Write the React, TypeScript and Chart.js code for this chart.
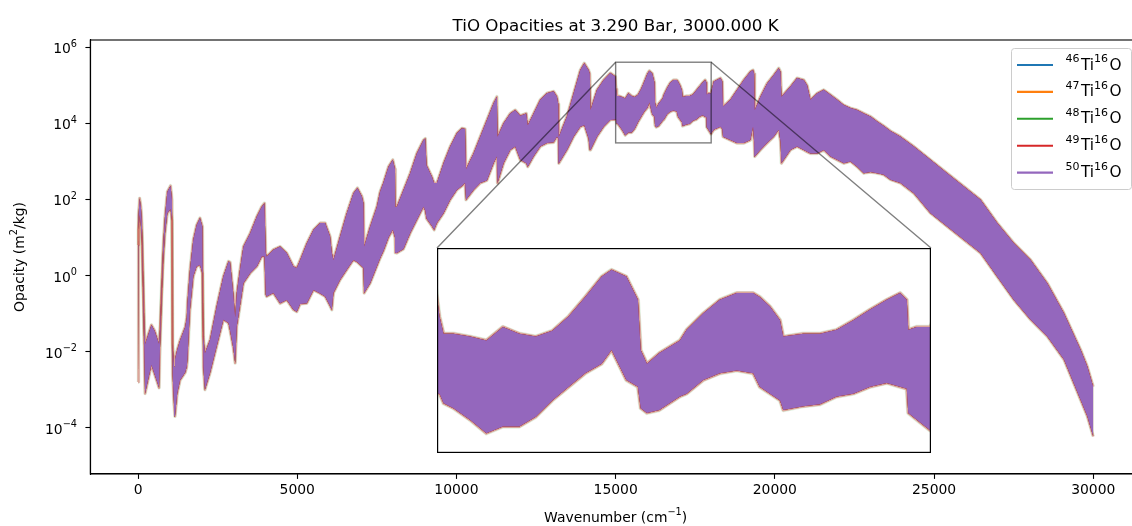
import React, { useEffect, useRef } from 'react';
import { Chart, registerables } from 'chart.js';

Chart.register(...registerables);

// ---------------- data ----------------
// wavenumber grid (cm^-1) and the upper / lower envelope of the opacity band, as log10(opacity)
const wavenumbers = [
  0, 15, 50, 90, 120, 160, 200, 220, 300, 420, 520, 660, 690, 740, 790, 845, 920, 1020, 1065, 1085,
  1130, 1160, 1230, 1320, 1480, 1530, 1550, 1630, 1735, 1840, 1945, 2020, 2050, 2100, 2260, 2470,
  2680, 2840, 2890, 2990, 3050, 3100, 3200, 3310, 3520, 3730, 3885, 3970, 4010, 4040, 4250, 4460,
  4670, 4880, 4985, 5090, 5300, 5510, 5720, 5875, 6030, 6085, 6136, 6346, 6555, 6765, 6890, 7030,
  7080, 7100, 7290, 7500, 7600, 7710, 7865, 8000, 8070, 8080, 8127, 8337, 8546, 8755, 8965, 9020,
  9060, 9227, 9300, 9385, 9594, 9803, 10013, 10170, 10270, 10300, 10537, 10746, 10956, 11165, 11270,
  11290, 11480, 11689, 11846, 12003, 12192, 12240, 12422, 12632, 12841, 13051, 13156, 13200, 13215,
  13470, 13679, 13889, 14015, 14150, 14190, 14210, 14413, 14623, 14832, 14990, 15015, 15040, 15100,
  15200, 15300, 15400, 15500, 15600, 15700, 15800, 15900, 16000, 16060, 16150, 16220, 16237, 16275,
  16350, 16475, 16516, 16617, 16717, 16820, 16920, 16960, 17022, 17083, 17103, 17224, 17326, 17427,
  17528, 17630, 17731, 17812, 17853, 17862, 17913, 17994, 18080, 18290, 18350, 18372, 18603, 18813,
  19022, 19232, 19315, 19350, 19370, 19546, 19756, 19965, 20122, 20180, 20206, 20489, 20699, 20908,
  21013, 21118, 21327, 21537, 21746, 21956, 22165, 22375, 22584, 22794, 23003, 23213, 23422, 23632,
  23947, 24366, 24890, 25413, 25937, 26461, 26985, 27509, 28033, 28557, 29080, 29604, 29814, 30000,
];

const upperExponent = [
  0.8, 1.6, 2.03, 1.8, 1.4, 0.0, -1.4, -1.8, -1.6, -1.3, -1.45, -1.8, -1.4, -0.3, 0.8, 1.55, 2.2, 2.36, 2.0, -1.8,
  -2.4, -2.2, -1.95, -1.7, -1.35, -1.1, -0.73, 0.15, 0.94, 1.33, 1.51, 1.29, -1.6, -2.04, -1.69, -0.81,
  -0.02, 0.37, 0.35, -0.46, -1.1, -0.46, 0.15, 0.76, 1.11, 1.55, 1.81, 1.9, 0.6, 0.5, 0.68, 0.76,
  0.59, 0.24, 0.2, 0.41, 0.85, 1.2, 1.38, 1.38, 1.03, 0.6, 0.41, 1.03, 1.64, 2.16, 2.3, 2.08,
  1.9, 0.76, 1.29, 1.81, 2.2, 2.45, 2.86, 3.04, 2.8, 1.8, 1.81, 2.25, 2.69, 3.21, 3.56, 3.6,
  2.9, 2.6, 2.43, 2.43, 2.95, 3.39, 3.74, 3.87, 3.85, 2.8, 3.21, 3.65, 4.09, 4.53, 4.7,
  3.65, 4.0, 4.26, 4.35, 4.2, 4.26, 3.95, 4.26, 4.62, 4.79, 4.84, 4.7, 4.5, 3.65,
  4.18, 4.79, 5.4, 5.58, 5.4, 5.3, 4.35, 4.88, 5.14, 5.32, 5.23, 4.9, 4.72, 4.72,
  4.69, 4.65, 4.79, 4.72, 4.69, 4.75, 4.9, 5.1, 5.31, 5.38, 5.31, 5.07, 4.55, 4.41,
  4.52, 4.65, 4.76, 4.93, 5.07, 5.14, 5.14, 5.1, 5.0, 4.86, 4.69, 4.72, 4.72, 4.76,
  4.86, 4.97, 5.07, 5.14, 5.07, 4.76, 4.79, 4.79, 5.1, 5.19, 5.1, 4.44, 4.62, 4.88,
  5.14, 5.36, 5.4, 5.3, 4.35, 4.7, 5.05, 5.27, 5.45, 5.35, 4.7, 4.97, 5.19, 5.14,
  5.0, 4.62, 4.79, 4.88, 4.75, 4.62, 4.48, 4.4, 4.35, 4.26, 4.18, 4.05, 3.93, 3.8,
  3.65, 3.39, 3.04, 2.69, 2.34, 1.99, 1.38, 0.85, 0.41, -0.2, -0.99, -1.95, -2.39, -2.92,
];

const lowerExponent = [
  -2.8, 1.2, 1.6, 1.3, 0.9, -0.5, -2.2, -3.1, -2.8, -2.35, -2.6, -2.95, -1.9, -0.6, 0.4, 1.1, 1.64, 1.75, 1.45, -2.6,
  -3.4, -3.7, -3.1, -2.75, -2.55, -2.4, -2.2, -0.9, -0.02, 0.24, 0.28, 0.06, -2.4, -3.0, -2.56, -1.86,
  -1.16, -1.25, -1.45, -1.9, -2.3, -1.34, -0.81, -0.2, 0.06, 0.24, 0.5, 0.5, -0.5, -0.55, -0.46, -0.73,
  -0.64, -0.9, -0.95, -0.75, -0.73, -0.38, -0.47, -0.55, -0.8, -0.9, -0.46, -0.11, 0.15, 0.41, 0.35, 0.24,
  0.2, -0.46, -0.2, 0.24, 0.45, 0.65, 1.0, 1.2, 1.0, 0.6, 0.59, 0.7, 1.11, 1.46, 1.81, 1.7,
  1.5, 1.3, 1.2, 1.38, 1.64, 1.99, 2.25, 2.35, 2.43, 1.99, 2.25, 2.43, 2.5, 2.95, 3.13,
  2.43, 2.95, 3.3, 3.39, 3.04, 2.95, 2.86, 3.13, 3.39, 3.48, 3.5, 3.65, 3.6, 2.95,
  3.3, 3.65, 3.91, 3.95, 3.6, 3.3, 3.3, 3.65, 3.91, 4.09, 4.1, 4.1, 4.0, 3.95,
  3.83, 3.69, 3.76, 3.76, 3.86, 4.03, 4.17, 4.31, 4.41, 4.55, 4.24, 4.17, 3.95, 3.9,
  3.93, 4.07, 4.1, 4.24, 4.31, 4.34, 4.31, 4.17, 4.1, 4.03, 3.93, 3.97, 3.99, 4.07,
  4.1, 4.17, 4.21, 4.17, 4.15, 3.9, 3.83, 3.72, 3.83, 3.91, 3.85, 3.65, 3.56, 3.48,
  3.48, 3.56, 3.91, 3.5, 3.13, 3.3, 3.48, 3.65, 3.83, 3.5, 2.95, 3.3, 3.39, 3.3,
  3.25, 3.21, 3.21, 3.3, 3.13, 3.04, 2.95, 3.0, 2.86, 2.69, 2.72, 2.69, 2.65, 2.52,
  2.43, 2.16, 1.64, 1.29, 0.94, 0.59, -0.03, -0.64, -1.16, -1.6, -2.21, -3.27, -3.7, -4.23,
];

const massNumbers = ['46', '47', '48', '49', '50'];
const seriesColors = ['#1f77b4', '#ff7f0e', '#2ca02c', '#d62728', '#9467bd'];
const fringeColors = ['rgba(0,0,0,0)', 'rgba(0,0,0,0)', 'rgba(44,160,44,0.14)', 'rgba(214,39,40,0.38)', 'rgba(0,0,0,0)'];
const fringeWidths = [1, 1, 3.6, 2.4, 1];

const xTickValues = [0, 5000, 10000, 15000, 20000, 25000, 30000];
const yTickExponents = [-4, -2, 0, 2, 4, 6];
const xLimits = [-1500, 31500];
const yLimitExponents = [-5.216, 6.19];
const insetXLimits = [15000, 18000];
const insetYLimitExponents = [3.486, 5.606];

const titleText = 'TiO Opacities at 3.290 Bar, 3000.000 K';

// ---------------- layout ----------------
const FONT = '"DejaVu Sans", sans-serif';
const MAIN_W = 1142;
const MAIN_H = 526;
const INSET = { left: 437, top: 248, width: 494, height: 205 };

function makeDatasets(widthScale: number) {
  const upper = wavenumbers.map((w, i) => ({ x: w, y: Math.pow(10, upperExponent[i]) }));
  const lower = wavenumbers.map((w, i) => ({ x: w, y: Math.pow(10, lowerExponent[i]) }));
  const ds: any[] = [];
  massNumbers.forEach((m, k) => {
    const order = massNumbers.length - 1 - k;
    const common = {
      pointRadius: 0,
      pointHoverRadius: 0,
      tension: 0,
      borderColor: fringeColors[k],
      borderWidth: fringeWidths[k] * widthScale,
      borderJoinStyle: 'round',
      order,
    };
    ds.push({ ...common, label: m + 'Ti16O', data: upper, fill: '+1', backgroundColor: seriesColors[k] });
    ds.push({ ...common, label: m + 'Ti16O lower', data: lower, fill: false, backgroundColor: seriesColors[k] });
  });
  return ds;
}

function drawSupText(
  ctx: CanvasRenderingContext2D,
  parts: [string, boolean][],
  x: number,
  y: number,
  size: number,
  align: 'left' | 'center' | 'right',
  supRatio = 0.7,
  supGap = 0,
) {
  const big = `${size}px ${FONT}`;
  const small = `${size * supRatio}px ${FONT}`;
  let total = 0;
  const widths = parts.map(([t, sup]) => {
    ctx.font = sup ? small : big;
    const w = ctx.measureText(t).width + (sup ? supGap : 0);
    total += w;
    return w;
  });
  let cx = align === 'left' ? x : align === 'center' ? x - total / 2 : x - total;
  ctx.textAlign = 'left';
  ctx.textBaseline = 'alphabetic';
  parts.forEach(([t, sup], i) => {
    ctx.font = sup ? small : big;
    ctx.fillText(t, cx, sup ? y - size * 0.48 : y);
    cx += widths[i];
  });
  return total;
}

const mainDecor = {
  id: 'mainDecor',
  afterDatasetsDraw(chart: any) {
    const { ctx, scales } = chart;
    const xs = scales.x;
    const ys = scales.y;
    ctx.save();
    // zoom rectangle + connectors
    const rx0 = xs.getPixelForValue(insetXLimits[0]);
    const rx1 = xs.getPixelForValue(insetXLimits[1]);
    const ry0 = ys.getPixelForValue(Math.pow(10, insetYLimitExponents[1]));
    const ry1 = ys.getPixelForValue(Math.pow(10, insetYLimitExponents[0]));
    ctx.strokeStyle = 'rgba(0,0,0,0.5)';
    ctx.lineWidth = 1.4;
    ctx.strokeRect(rx0, ry0, rx1 - rx0, ry1 - ry0);
    ctx.beginPath();
    ctx.moveTo(rx0, ry0);
    ctx.lineTo(INSET.left, INSET.top);
    ctx.moveTo(rx1, ry0);
    ctx.lineTo(INSET.left + INSET.width, INSET.top);
    ctx.stroke();
    ctx.restore();
  },
  afterDraw(chart: any) {
    const { ctx, chartArea, scales } = chart;
    const ys = scales.y;
    ctx.save();
    // frame
    ctx.strokeStyle = '#000';
    ctx.lineWidth = 1.1;
    ctx.strokeRect(chartArea.left, chartArea.top, chartArea.right - chartArea.left, chartArea.bottom - chartArea.top);
    ctx.fillStyle = '#000';
    // y tick labels
    yTickExponents.forEach((e) => {
      const y = ys.getPixelForValue(Math.pow(10, e));
      const sup = e < 0 ? '\u2212' + Math.abs(e) : String(e);
      drawSupText(ctx, [['10', false], [sup, true]], 77, y + 6, 13.9, 'right');
    });
    // title
    ctx.font = `16.7px ${FONT}`;
    ctx.textAlign = 'center';
    ctx.textBaseline = 'alphabetic';
    const cx = (chartArea.left + chartArea.right) / 2;
    ctx.fillText(titleText, cx, 30.5);
    // x label
    drawSupText(ctx, [['Wavenumber (cm', false], ['\u22121', true], [')', false]], cx, 522, 13.9, 'center');
    // y label
    ctx.save();
    ctx.translate(23.5, (chartArea.top + chartArea.bottom) / 2);
    ctx.rotate(-Math.PI / 2);
    drawSupText(ctx, [['Opacity (m', false], ['2', true], ['/kg)', false]], 0, 0, 13.9, 'center');
    ctx.restore();
    // legend
    const lx = 1011.5, ly = 48.5, lw = 120, lh = 141;
    ctx.beginPath();
    ctx.roundRect(lx, ly, lw, lh, 3);
    ctx.fillStyle = 'rgba(255,255,255,0.8)';
    ctx.fill();
    ctx.strokeStyle = '#cccccc';
    ctx.lineWidth = 1;
    ctx.stroke();
    massNumbers.forEach((m, k) => {
      const ry = 65 + k * 26.9;
      ctx.strokeStyle = seriesColors[k];
      ctx.lineWidth = 2.1;
      ctx.beginPath();
      ctx.moveTo(1017, ry);
      ctx.lineTo(1053, ry);
      ctx.stroke();
      ctx.fillStyle = '#000';
      drawSupText(ctx, [[m, true], ['Ti', false], ['16', true], ['O', false]], 1065.5, ry + 4.5, 15.3, 'left', 0.72, 1.5);
    });
    ctx.restore();
  },
};

const insetDecor = {
  id: 'insetDecor',
  afterDraw(chart: any) {
    const { ctx } = chart;
    ctx.save();
    ctx.strokeStyle = '#000';
    ctx.lineWidth = 1.2;
    ctx.strokeRect(0.6, 0.6, INSET.width - 1.2, INSET.height - 1.2);
    ctx.restore();
  },
};

const tickFont = { family: FONT, size: 13.9 };

export default function App() {
  const mainRef = useRef<HTMLCanvasElement | null>(null);
  const insetRef = useRef<HTMLCanvasElement | null>(null);

  useEffect(() => {
    const mainChart = new Chart(mainRef.current as HTMLCanvasElement, {
      type: 'line',
      data: { datasets: makeDatasets(1) },
      options: {
        responsive: false,
        animation: false,
        events: [],
        layout: { padding: { top: 40, right: 1, left: 0, bottom: 0 } },
        plugins: { legend: { display: false }, tooltip: { enabled: false }, title: { display: false } },
        scales: {
          x: {
            type: 'linear',
            min: xLimits[0],
            max: xLimits[1],
            afterBuildTicks: (s: any) => {
              s.ticks = xTickValues.map((v) => ({ value: v }));
            },
            afterFit: (s: any) => {
              s.height = 52;
            },
            ticks: {
              autoSkip: false,
              maxRotation: 0,
              callback: (v: any) => String(v),
              font: tickFont,
              color: '#000',
              padding: 3,
            },
            grid: { display: true, drawOnChartArea: false, drawTicks: true, tickLength: 4.9, tickWidth: 1.1, tickColor: '#000' },
            border: { display: true, color: '#000', width: 1.1 },
          },
          y: {
            type: 'logarithmic',
            min: Math.pow(10, yLimitExponents[0]),
            max: Math.pow(10, yLimitExponents[1]),
            afterBuildTicks: (s: any) => {
              s.ticks = yTickExponents.map((e) => ({ value: Math.pow(10, e) }));
            },
            afterFit: (s: any) => {
              s.width = 90.3;
            },
            ticks: { autoSkip: false, callback: () => '', font: tickFont, color: '#000' },
            grid: { display: true, drawOnChartArea: false, drawTicks: true, tickLength: 4.9, tickWidth: 1.1, tickColor: '#000' },
            border: { display: true, color: '#000', width: 1.1 },
          },
        },
      } as any,
      plugins: [mainDecor],
    });

    const insetChart = new Chart(insetRef.current as HTMLCanvasElement, {
      type: 'line',
      data: { datasets: makeDatasets(1.2) },
      options: {
        responsive: false,
        animation: false,
        events: [],
        layout: { padding: 0 },
        plugins: { legend: { display: false }, tooltip: { enabled: false } },
        scales: {
          x: { type: 'linear', display: false, min: insetXLimits[0], max: insetXLimits[1] },
          y: {
            type: 'logarithmic',
            display: false,
            min: Math.pow(10, insetYLimitExponents[0]),
            max: Math.pow(10, insetYLimitExponents[1]),
          },
        },
      } as any,
      plugins: [insetDecor],
    });

    return () => {
      mainChart.destroy();
      insetChart.destroy();
    };
  }, []);

  return (
    <div style={{ position: 'fixed', left: 0, top: 0, width: 1132, height: 526, overflow: 'hidden', background: '#fff' }}>
      <canvas
        ref={mainRef}
        width={MAIN_W}
        height={MAIN_H}
        style={{ position: 'absolute', left: 0, top: 0, width: MAIN_W, height: MAIN_H }}
      />
      <canvas
        ref={insetRef}
        width={INSET.width}
        height={INSET.height}
        style={{ position: 'absolute', left: INSET.left, top: INSET.top, width: INSET.width, height: INSET.height, background: '#fff' }}
      />
    </div>
  );
}
